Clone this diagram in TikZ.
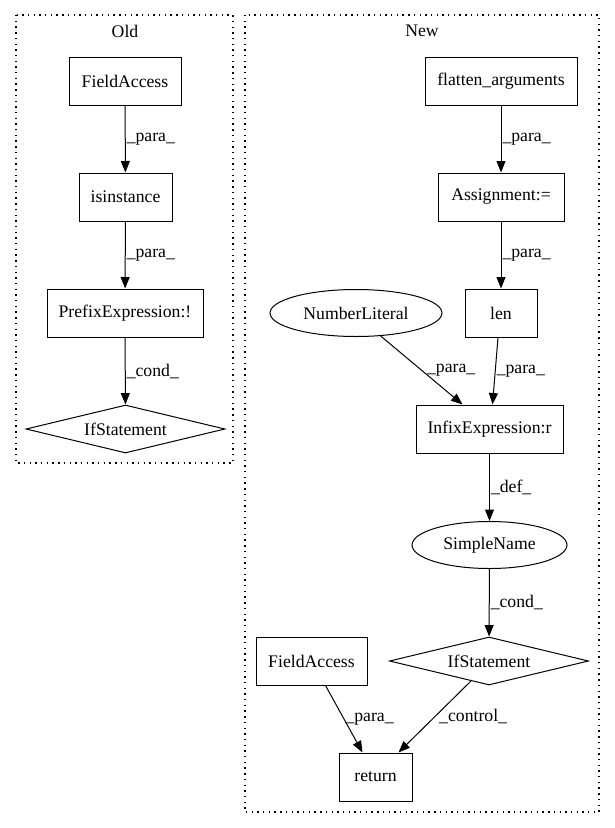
\documentclass[tikz,border=0pt]{standalone}
\usepackage{fontspec}
\setmainfont{Liberation Serif}
\usepackage{tikz}
\usetikzlibrary{arrows.meta,shapes.geometric}

\begin{document}
\begin{tikzpicture}[x=1pt, y=-1pt]
% Node styles ---
\tikzstyle{box} = [rectangle, line width = 1pt, minimum height = 48, inner xsep = 4pt, draw = black!100, fill = white!100, font = \fontsize{17.7}{20}\selectfont]
\tikzstyle{ell} = [ellipse, line width = 1pt, minimum height = 47, inner sep = 0pt, draw = black!100, fill = white!100, font = \fontsize{17.7}{20}\selectfont]
\tikzstyle{dia} = [diamond, line width = 1pt, shape aspect = 4, minimum width = 199, minimum height = 48, inner sep = 0pt, draw = black!100, fill = white!100, font = \fontsize{17.7}{20}\selectfont]
\tikzstyle{clu} = [line width = 1.1pt, dash pattern = on 1.4pt off 4.3pt, draw = black!100]
\tikzstyle{tit} = [font = \fontsize{17.7}{20}\selectfont]
\tikzstyle{con} = [-{Triangle[length = 11.5pt, width = 9pt]}, line width = 1pt, draw = black!100]
\tikzstyle{lbl} = [anchor = west, inner sep = 1pt, font = \fontsize{17.7}{20}\selectfont]
% Begin Figure ---
\useasboundingbox (0,0) rectangle (615,828);
% Clusters
\draw [clu] (16,15) rectangle (233,463);
\draw [clu] (245,15) rectangle (599,812);
\node at (125,31) [tit] (old) {Old};
\node at (422,31) [tit] (new) {New};
% Nodes (old)
\node at (125,81) [box, minimum width = 112] (fa1) {FieldAccess};
\node at (125.5,197) [box, minimum width = 93] (isi) {isinstance};
\node at (125,313) [box, minimum width = 156] (pre) {PrefixExpression:!};
\node at (125.5,429) [dia] (if1) {IfStatement};
% Nodes (new)
\node at (501,81) [box, minimum width = 152] (fla) {flatten\_arguments};
\node at (501,197) [box, minimum width = 126] (asg) {Assignment:=};
\node at (501,313) [box, minimum width = 72] (len) {len};
\node at (356,313) [ell, minimum width = 172] (num) {NumberLiteral};
\node at (489.5,429) [box, minimum width = 147] (inf) {InfixExpression:r};
\node at (489.5,545) [ell, minimum width = 155] (sim) {SimpleName};
\node at (489,661) [dia] (if2) {IfStatement};
\node at (311.5,661) [box, minimum width = 111] (fa2) {FieldAccess};
\node at (375.5,777) [box, minimum width = 73] (ret) {return};
% Paths
\path (fa1) edge [con] node [lbl, midway] {\_para\_} (isi);
\path (isi) edge [con] node [lbl, midway] {\_para\_} (pre);
\path (pre) edge [con] node [lbl, midway] {\_cond\_} (if1);
\path (fla) edge [con] node [lbl, midway] {\_para\_} (asg);
\path (asg) edge [con] node [lbl, midway] {\_para\_} (len);
\path (num.-43) edge [con] node [lbl, midway, xshift = 4] {\_para\_} ([xshift = -27]inf.north);
\path ([xshift = -3]len.south) edge [con] node [lbl, midway] {\_para\_} ([xshift = 3]inf.north);
\path (inf) edge [con] node [lbl, midway] {\_def\_} (sim);
\path (sim) edge [con] node [lbl, midway] {\_cond\_} (if2);
\path ([xshift = 14]fa2.south) edge [con] node [lbl, midway] {\_para\_} ([xshift = -13]ret.north);
\path (if2.-132) edge [con] node [lbl, midway, xshift = 3] {\_control\_} ([xshift = 23]ret.north);
\end{tikzpicture}
\end{document}
